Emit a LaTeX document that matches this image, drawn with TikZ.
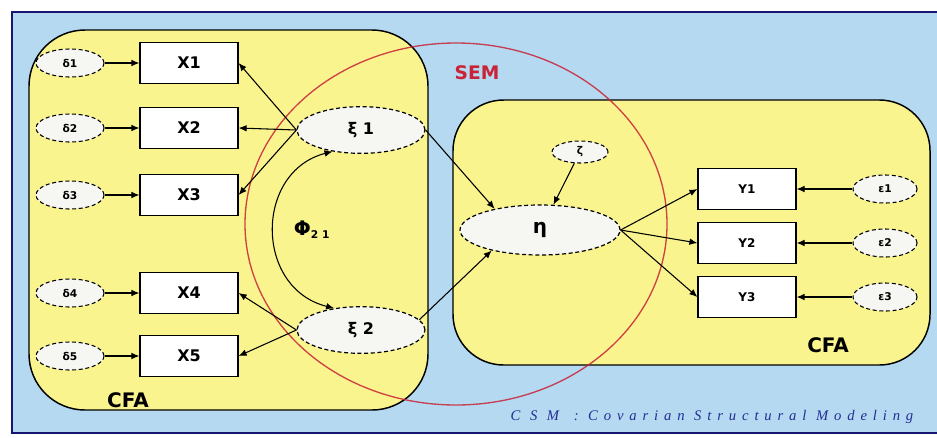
\documentclass[tikz,border=0pt]{standalone}
\usepackage{fontspec}
\setmainfont{DejaVu Sans}
\newfontfamily\csmfont[LetterSpace=40]{Liberation Serif}
\usetikzlibrary{arrows.meta,shapes.geometric}
\definecolor{skyblue}{RGB}{180,217,240}
\definecolor{padyellow}{RGB}{250,244,142}
\definecolor{framenavy}{RGB}{22,22,112}
\definecolor{semred}{RGB}{200,35,55}
\definecolor{csmblue}{RGB}{35,45,150}
\definecolor{oval}{RGB}{246,246,242}
\tikzstyle{obs}=[draw, line width=0.9pt, fill=white, minimum width=73.5pt, minimum height=31pt, inner sep=0, font=\bfseries\fontsize{12}{14}\selectfont]
\tikzstyle{err}=[draw, densely dashed, line width=0.8pt, ellipse, fill=oval, minimum width=51pt, minimum height=21pt, inner sep=0, font=\bfseries\fontsize{8}{9}\selectfont]
\tikzstyle{lat}=[draw, densely dashed, line width=0.9pt, ellipse, fill=oval, minimum width=96pt, minimum height=35pt, inner sep=0, font=\bfseries\fontsize{12}{14}\selectfont]
\tikzstyle{load}=[line width=0.8pt, -{Latex[length=6pt,width=5pt]}]
\tikzstyle{cfa}=[font=\bfseries\fontsize{15}{17}\selectfont]

\begin{document}
\begin{tikzpicture}[x=0.75pt, y=-0.75pt]
\useasboundingbox (0,0) rectangle (937,437);
\fill[white] (0,0) rectangle (937,437);
\draw[framenavy, line width=2.2pt, fill=skyblue] (12,12) rectangle (938,433);
% the two CFA blocks
\draw[line width=1.1pt, fill=padyellow, rounded corners=42pt] (29,30) rectangle (428,410);
\draw[line width=1.1pt, fill=padyellow, rounded corners=38pt] (453,100) rectangle (930,365);
% SEM ring
\draw[semred, line width=1pt, opacity=0.85] (456,224) ellipse [x radius=211, y radius=181];
\node[text=semred, font=\bfseries\fontsize{14}{16}\selectfont] (sem) at (477,73) {SEM};

% exogenous side
\foreach \y [count=\i] in {63,128,195,293,356}
{
\node[obs] (X\i) at (189,\y) {X\i};
\node[err] (D\i) at (70,\y) {δ\i};
\draw[load] (D\i) -- (X\i);
}
\node[lat] (xi1) at (361,130) {ξ 1};
\node[lat] (xi2) at (361,330) {ξ 2};
\foreach \i in {1,2,3}
{
\draw[load] (xi1.west) -- (X\i.east);
}
\foreach \i in {4,5}
{
\draw[load] (xi2.west) -- (X\i.east);
}
\draw[line width=0.8pt, {Latex[length=6pt,width=5pt]}-{Latex[length=6pt,width=5pt]}] (xi1.217) .. controls +(-78,20) and +(-80,-20) .. (xi2.141);
\node[font=\bfseries\fontsize{15}{17}\selectfont] (phi) at (312,230) {Φ\textsubscript{\fontsize{8}{9}\selectfont 2 1}};

% endogenous side
\node[lat, minimum width=120pt, minimum height=37.5pt, font=\bfseries\fontsize{15}{17}\selectfont] (eta) at (540,230) {η};
\node[err, minimum width=42pt, minimum height=16.5pt] (zeta) at (580,152) {ζ};
\draw[load] (xi1.east) -- (eta.155);
\draw[load] (xi2.10) -- (eta.203);
\draw[load] (zeta) -- (eta.62);
\foreach \y [count=\i] in {189,243,297}
{
\node[obs, font=\bfseries\fontsize{9}{11}\selectfont] (Y\i) at (747,\y) {Y\i};
\node[err, minimum width=48pt] (E\i) at (885,\y) {ε\i};
\draw[load] (E\i) -- (Y\i);
\draw[load] (eta.east) -- (Y\i.west);
}

\node[cfa] (cfaL) at (128,400) {CFA};
\node[cfa] (cfaR) at (828,345) {CFA};
\node[text=csmblue, anchor=west, font=\csmfont\itshape\fontsize{11}{13}\selectfont] (csm) at (506,417) {C S M\quad : Covarian Structural Modeling};
\end{tikzpicture}
\end{document}
